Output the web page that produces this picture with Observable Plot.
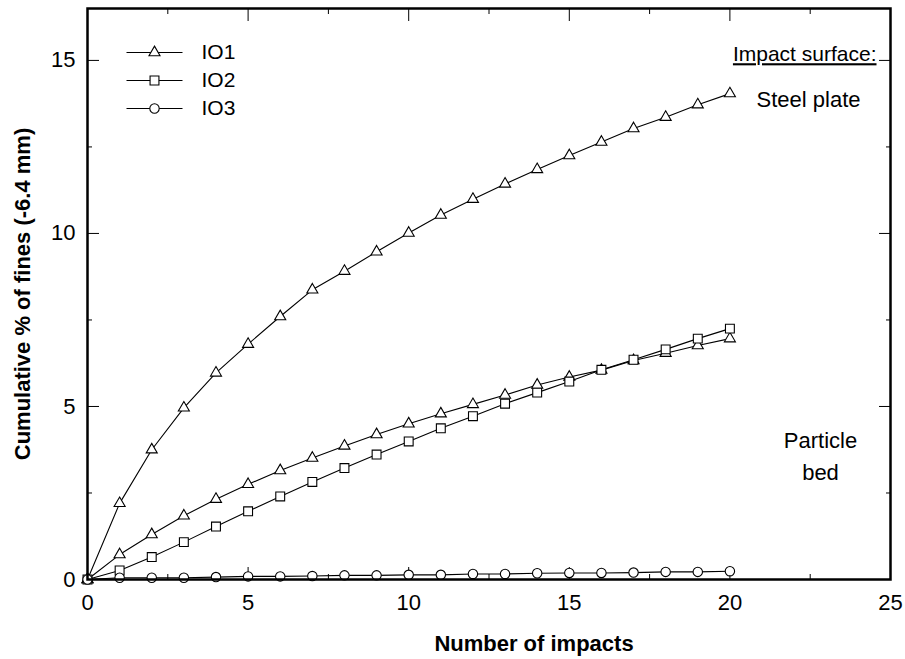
<!DOCTYPE html>
<html><head><meta charset="utf-8">
<script src="https://cdn.jsdelivr.net/npm/d3@7"></script>
<script src="https://cdn.jsdelivr.net/npm/@observablehq/plot@0.6"></script>
<style>
html,body{margin:0;padding:0;background:#fff;}
.underline text{text-decoration:underline;}
</style></head><body><div id="chart"></div>
<script>
const impacts = [0,1,2,3,4,5,6,7,8,9,10,11,12,13,14,15,16,17,18,19,20];
const io1Steel = [0,2.2,3.75,4.96,5.97,6.8,7.6,8.37,8.91,9.47,10.01,10.53,10.99,11.43,11.85,12.25,12.64,13.03,13.36,13.72,14.04];
const io1Bed = [0,0.72,1.30,1.84,2.32,2.75,3.15,3.51,3.86,4.19,4.50,4.79,5.06,5.33,5.62,5.85,6.05,6.33,6.54,6.76,6.96];
const io2Bed = [0,0.26,0.65,1.08,1.53,1.97,2.40,2.82,3.22,3.61,3.99,4.37,4.72,5.08,5.40,5.72,6.06,6.35,6.65,6.96,7.25];
const io3Bed = [0,0.05,0.05,0.05,0.07,0.09,0.09,0.10,0.12,0.12,0.135,0.135,0.16,0.16,0.18,0.19,0.19,0.20,0.22,0.22,0.24];

const seriesNames = ["IO1 steel plate","IO1 particle bed","IO2 particle bed","IO3 particle bed"];
const seriesValues = [io1Steel, io1Bed, io2Bed, io3Bed];
const seriesSymbols = ["triangle","triangle","square","circle"];

const legendLabels = ["IO1","IO2","IO3"];
const legendSymbols = ["triangle","square","circle"];

const xMajor = [0,5,10,15,20,25];
const xMinor = [2.5,7.5,12.5,17.5,22.5];
const yMajor = [0,5,10,15];
const yMinor = [2.5,7.5,12.5];

const symbolR = {triangle: 4.1, square: 5.0, circle: 4.7};

const rows = seriesNames.flatMap((name, i) =>
  impacts.map((x, j) => ({series: name, symbol: seriesSymbols[i], x, y: seriesValues[i][j]})));

const lineSym = {draw(ctx){ ctx.moveTo(-28,0); ctx.lineTo(28,0); }};

const tickMarks = [
  Plot.axisX({anchor:"bottom", ticks:xMajor, tickSize:-12, fill:"none", label:null}),
  Plot.axisX({anchor:"bottom", ticks:xMinor, tickSize:-5, fill:"none", label:null}),
  Plot.axisX({anchor:"top", ticks:xMajor, tickSize:-12, fill:"none", label:null}),
  Plot.axisX({anchor:"top", ticks:xMinor, tickSize:-5, fill:"none", label:null}),
  Plot.axisY({anchor:"left", ticks:yMajor, tickSize:-12, fill:"none", label:null}),
  Plot.axisY({anchor:"left", ticks:yMinor, tickSize:-5, fill:"none", label:null}),
  Plot.axisY({anchor:"right", ticks:yMajor, tickSize:-12, fill:"none", label:null}),
  Plot.axisY({anchor:"right", ticks:yMinor, tickSize:-5, fill:"none", label:null}),
  Plot.axisX({anchor:"bottom", ticks:xMajor, tickSize:0, tickPadding:15, label:null, fontSize:22}),
  Plot.axisY({anchor:"left", ticks:yMajor, tickSize:0, tickPadding:12, label:null, fontSize:22})
];

const legendMarks = legendLabels.flatMap((label, i) => [
  Plot.dot([label], {frameAnchor:"top-left", dx:67, dy:44 + 28*i, symbol:lineSym, r:1, fill:"none", stroke:"black", strokeWidth:1}),
  Plot.dot([label], {frameAnchor:"top-left", dx:67, dy:44 + 28*i, symbol:legendSymbols[i], r:symbolR[legendSymbols[i]], fill:"white", stroke:"black", strokeWidth:1.1}),
  Plot.text([label], {frameAnchor:"top-left", dx:114, dy:44 + 28*i, text:d => d, textAnchor:"start", lineAnchor:"middle", fontSize:21})
]);

const chart = Plot.plot({
  width: 905,
  height: 659,
  marginLeft: 87,
  marginRight: 15,
  marginTop: 8,
  marginBottom: 80,
  style: {fontFamily: "'Liberation Sans', Arial, sans-serif", fontSize: "22px", color: "black", background: "white"},
  x: {domain: [0, 25], axis: null},
  y: {domain: [0, 16.5], axis: null},
  marks: [
    ...tickMarks,
    Plot.line(rows, {x:"x", y:"y", z:"series", stroke:"black", strokeWidth:1.1}),
    ...seriesNames.map((name, i) =>
      Plot.dot(rows.filter(d => d.series === name), {x:"x", y:"y", symbol: seriesSymbols[i], r: symbolR[seriesSymbols[i]], fill:"white", stroke:"black", strokeWidth:1.1})),
    Plot.frame({stroke:"black", strokeWidth:2.5}),
    ...legendMarks,
    Plot.text(["Impact surface:"], {frameAnchor:"top-right", dx:-14, dy:46, textAnchor:"end", lineAnchor:"middle", fontSize:21, className:"underline"}),
    Plot.text(["Steel plate"], {frameAnchor:"top-right", dx:-82, dy:91, textAnchor:"middle", lineAnchor:"middle", fontSize:22}),
    Plot.text(["Particle\nbed"], {frameAnchor:"right", dx:-70, dy:160, textAnchor:"middle", lineAnchor:"middle", lineHeight:1.45, fontSize:22}),
    Plot.text(["Number of impacts"], {frameAnchor:"bottom", dx:45, dy:64, textAnchor:"middle", lineAnchor:"middle", fontSize:22, fontWeight:"bold"}),
    Plot.text(["Cumulative % of fines (-6.4 mm)"], {frameAnchor:"left", dx:-65, rotate:-90, textAnchor:"middle", lineAnchor:"middle", fontSize:22, fontWeight:"bold"})
  ]
});
document.getElementById("chart").appendChild(chart);
</script>
</body></html>
